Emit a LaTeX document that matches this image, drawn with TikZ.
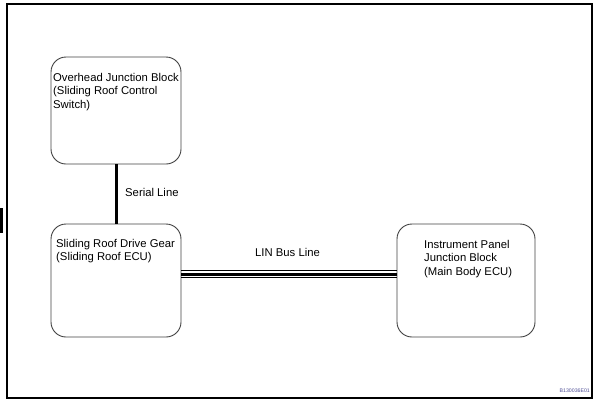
\documentclass[tikz,border=0pt]{standalone}
\usepackage{fontspec}
\setmainfont{Liberation Sans}
\begin{document}
\begin{tikzpicture}[x=1pt,y=-1pt,
  unit/.style={draw=black!75,line width=0.9pt,rounded corners=15pt,inner sep=0pt},
  lbl/.style={align=left,inner sep=0pt,font=\fontsize{11.3}{13.6}\selectfont,text=black},
  thin/.style={line width=0.8pt},
  thick/.style={line width=3pt}]
\useasboundingbox (0,0) rectangle (599,402);
\draw[line width=1.1pt] (7,4) rectangle (592,398);
\fill[black] (0,208) rectangle (3,233);
\node[unit,minimum width=130pt,minimum height=107pt] (b1) at (116,110.5) {};
\node[unit,minimum width=130pt,minimum height=113pt] (b2) at (116,280.5) {};
\node[unit,minimum width=138pt,minimum height=113pt] (b3) at (466,280.5) {};
\node[lbl,anchor=north west] (t1) at (53,72.8) {Overhead Junction Block\\(Sliding Roof Control\\Switch)};
\node[lbl,anchor=north west] (t2) at (56,238.8) {Sliding Roof Drive Gear\\(Sliding Roof ECU)};
\node[lbl,anchor=north west] (t3) at (424,239.8) {Instrument Panel\\Junction Block\\(Main Body ECU)};
\draw[thick] (b1.south) -- (b2.north);
\node[lbl,anchor=base west] (sl) at (125,196) {Serial Line};
\draw[thick] ([yshift=6.5pt]b2.east) -- ([yshift=6.5pt]b3.west);
\draw[thin] ([yshift=10pt]b2.east) -- ([yshift=10pt]b3.west);
\draw[thin] ([yshift=3pt]b2.east) -- ([yshift=3pt]b3.west);
\node[lbl,anchor=base west] (lin) at (255,256) {LIN Bus Line};
\node[anchor=base east,inner sep=0pt,font=\fontsize{5.2}{6}\selectfont,text=black!60!blue!70] (code) at (590,392) {B130036E01};
\end{tikzpicture}
\end{document}
